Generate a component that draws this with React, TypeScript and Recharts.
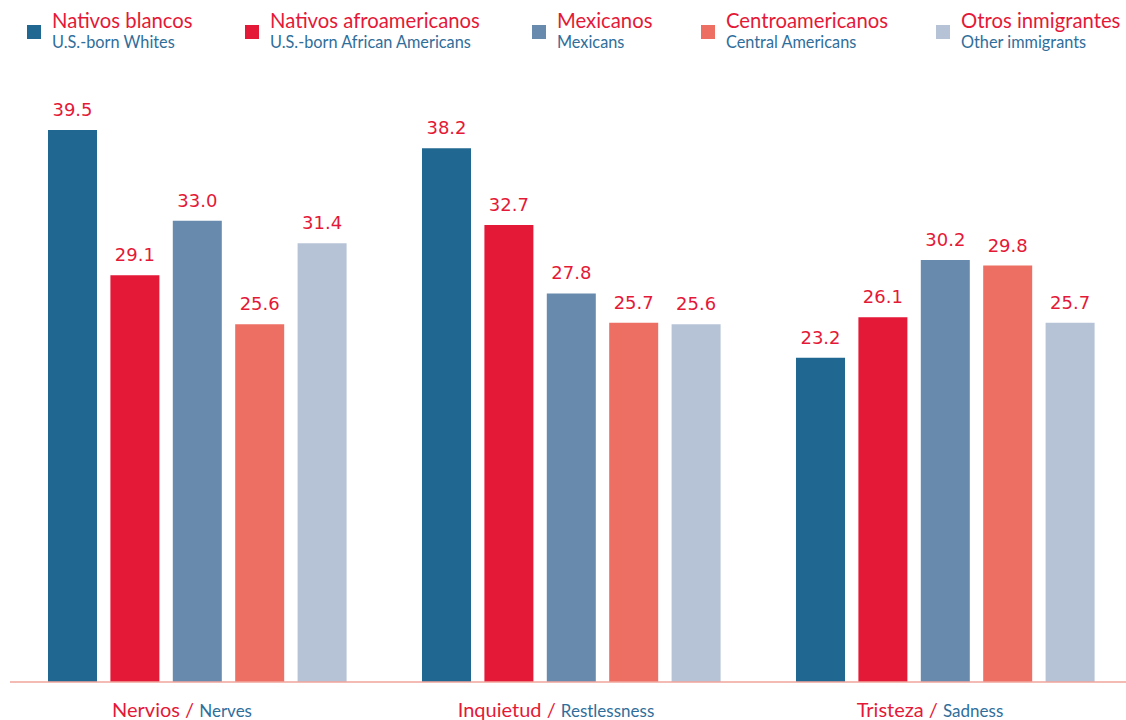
import React from 'react';
import { BarChart, Bar, XAxis, YAxis, Legend, LabelList } from 'recharts';

const categoriesEs = ['Nervios', 'Inquietud', 'Tristeza'];
const categoriesEn = ['Nerves', 'Restlessness', 'Sadness'];

const whites = [39.5, 38.2, 23.2];
const africanAmericans = [29.1, 32.7, 26.1];
const mexicans = [33.0, 27.8, 30.2];
const centralAmericans = [25.6, 25.7, 29.8];
const otherImmigrants = [31.4, 25.6, 25.7];

const seriesKeys = ['whites', 'africanAmericans', 'mexicans', 'centralAmericans', 'otherImmigrants'];
const seriesEs = ['Nativos blancos', 'Nativos afroamericanos', 'Mexicanos', 'Centroamericanos', 'Otros inmigrantes'];
const seriesEn = ['U.S.-born Whites', 'U.S.-born African Americans', 'Mexicans', 'Central Americans', 'Other immigrants'];
const seriesColors = ['#206891', '#e41937', '#688aad', '#ed6f63', '#b6c3d6'];

const RED = '#e41937';
const BLUE = '#2f6e9b';
const FONT = 'Lato, "Noto Sans", sans-serif';

// left edge of each legend swatch
const legendLeft = [27, 245, 532, 701, 936];

const data = categoriesEs.map((es, i) => ({
  es,
  en: categoriesEn[i],
  whites: whites[i],
  africanAmericans: africanAmericans[i],
  mexicans: mexicans[i],
  centralAmericans: centralAmericans[i],
  otherImmigrants: otherImmigrants[i],
}));

function CategoryTick(props: any) {
  const { x, y, payload } = props;
  const en = categoriesEn[categoriesEs.indexOf(payload.value)];
  return (
    <text x={x - 15} y={y + 27} textAnchor="middle" fontFamily={FONT}>
      <tspan fill={RED} fontSize={20}>{payload.value} / </tspan>
      <tspan fill={BLUE} fontSize={17}>{en}</tspan>
    </text>
  );
}

function LegendContent() {
  return (
    <div style={{ position: 'relative', height: 60, fontFamily: FONT, whiteSpace: 'nowrap' }}>
      {seriesEs.map((es, i) => (
        <div key={es} style={{ position: 'absolute', left: legendLeft[i], top: 0, display: 'flex', alignItems: 'flex-start' }}>
          <div style={{ width: 14, height: 14, background: seriesColors[i], marginTop: 25, marginRight: 11, flexShrink: 0 }} />
          <div style={{ paddingTop: 8 }}>
            <div style={{ color: RED, fontSize: 20.3, lineHeight: '24px' }}>{es}</div>
            <div style={{ color: BLUE, fontSize: 16.3, lineHeight: '19px' }}>{seriesEn[i]}</div>
          </div>
        </div>
      ))}
    </div>
  );
}

export default function App() {
  return (
    <div style={{ position: 'absolute', left: 0, top: 0, width: 1126, height: 720, overflow: 'hidden', background: '#fff' }}>
      <BarChart
        width={1140}
        height={720}
        data={data}
        margin={{ top: 123, right: 8, bottom: 0, left: 10 }}
        barSize={49}
        barGap={13.4}
      >
        <XAxis
          dataKey="es"
          height={38}
          axisLine={{ stroke: '#f0a49c', strokeWidth: 1.5 }}
          tickLine={false}
          tick={<CategoryTick />}
          interval={0}
        />
        <YAxis hide domain={[0, 40]} />
        <Legend
          layout="horizontal"
          verticalAlign="middle"
          wrapperStyle={{ top: 0, left: 0, width: 1140 }}
          content={<LegendContent />}
        />
        {seriesKeys.map((k, i) => (
          <Bar key={k} dataKey={k} name={seriesEn[i]} fill={seriesColors[i]} isAnimationActive={false}>
            <LabelList
              dataKey={k}
              position="top"
              offset={14}
              fill={RED}
              fontSize={18}
              fontFamily='"DejaVu Sans", sans-serif'
              formatter={(v: any) => Number(v).toFixed(1)}
            />
          </Bar>
        ))}
      </BarChart>
    </div>
  );
}
